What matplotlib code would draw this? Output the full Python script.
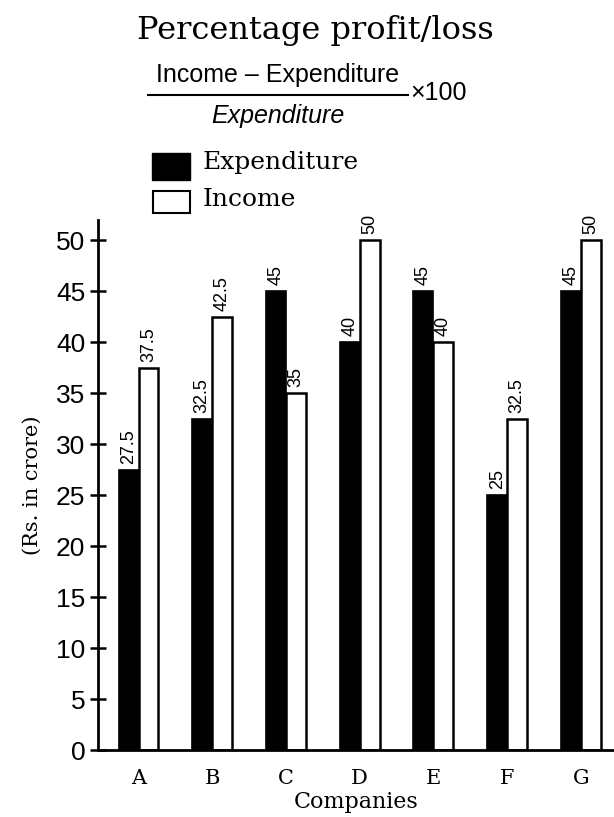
import numpy as np
import matplotlib.pyplot as plt
from matplotlib.lines import Line2D
from matplotlib.patches import Rectangle

companies = ["A", "B", "C", "D", "E", "F", "G"]
expenditure = [27.5, 32.5, 45, 40, 45, 25, 45]
income = [37.5, 42.5, 35, 50, 40, 32.5, 50]
yticks = [0, 5, 10, 15, 20, 25, 30, 35, 40, 45, 50]

serif = "DejaVu Serif"
sans = "Liberation Sans"

fig = plt.figure(figsize=(6.14, 8.17), dpi=100)
ax = fig.add_axes([98 / 614, 1 - 750 / 817, 1 - 98 / 614, (750 - 220) / 817])

x = np.arange(len(companies))
w = 0.27
ax.bar(x - w / 2, expenditure, width=w, color="black", edgecolor="black", linewidth=1.2)
ax.bar(x + w / 2, income, width=w, color="white", edgecolor="black", linewidth=1.8)

# value labels, rotated like the original
for xi, e, i in zip(x, expenditure, income):
    ax.text(xi - w / 2, e + 0.6, f"{e:g}", rotation=90, ha="center", va="bottom",
            fontsize=13, family=sans)
    ax.text(xi + w / 2, i + 0.6, f"{i:g}", rotation=90, ha="center", va="bottom",
            fontsize=13, family=sans)

ax.set_xlim(-0.55, 6.45)
ax.set_ylim(0, 52)
ax.set_yticks(yticks)
ax.set_yticklabels([str(t) for t in yticks], family=sans, fontsize=19)
ax.set_xticks(x)
ax.set_xticklabels(companies, family=serif, fontsize=15)
ax.tick_params(axis="y", direction="inout", length=12, width=1.8, pad=3)
ax.tick_params(axis="x", length=0, pad=14)
ax.spines["top"].set_visible(False)
ax.spines["right"].set_visible(False)
ax.spines["left"].set_linewidth(2)
ax.spines["bottom"].set_linewidth(2)
ax.set_xlabel("Companies", family=serif, fontsize=16, labelpad=2)
ax.set_ylabel("(Rs. in crore)", family=serif, fontsize=15, labelpad=10)

# title and formula
fig.text(315 / 614, 1 - 30 / 817, "Percentage profit/loss", ha="center", va="center",
         family=serif, fontsize=23)
fig.text(278 / 614, 1 - 75 / 817, "Income – Expenditure", ha="center", va="center",
         family=sans, fontsize=18)
fig.text(278 / 614, 1 - 116 / 817, "Expenditure", ha="center", va="center",
         family=sans, fontsize=18, style="italic")
fig.add_artist(Line2D([148 / 614, 408 / 614], [1 - 95 / 817, 1 - 95 / 817],
                      color="black", linewidth=1.5, transform=fig.transFigure))
fig.text(410 / 614, 1 - 93 / 817, "×100", ha="left", va="center", family=sans, fontsize=18)

# legend
fig.add_artist(Rectangle((152 / 614, 1 - 180 / 817), 38 / 614, 27 / 817,
                         facecolor="black", edgecolor="black", transform=fig.transFigure))
fig.add_artist(Rectangle((153 / 614, 1 - 213 / 817), 37 / 614, 22 / 817,
                         facecolor="white", edgecolor="black", linewidth=1.5,
                         transform=fig.transFigure))
fig.text(203 / 614, 1 - 163 / 817, "Expenditure", ha="left", va="center", family=serif, fontsize=18)
fig.text(203 / 614, 1 - 199 / 817, "Income", ha="left", va="center", family=serif, fontsize=18)

plt.savefig("out.png", dpi=100)
